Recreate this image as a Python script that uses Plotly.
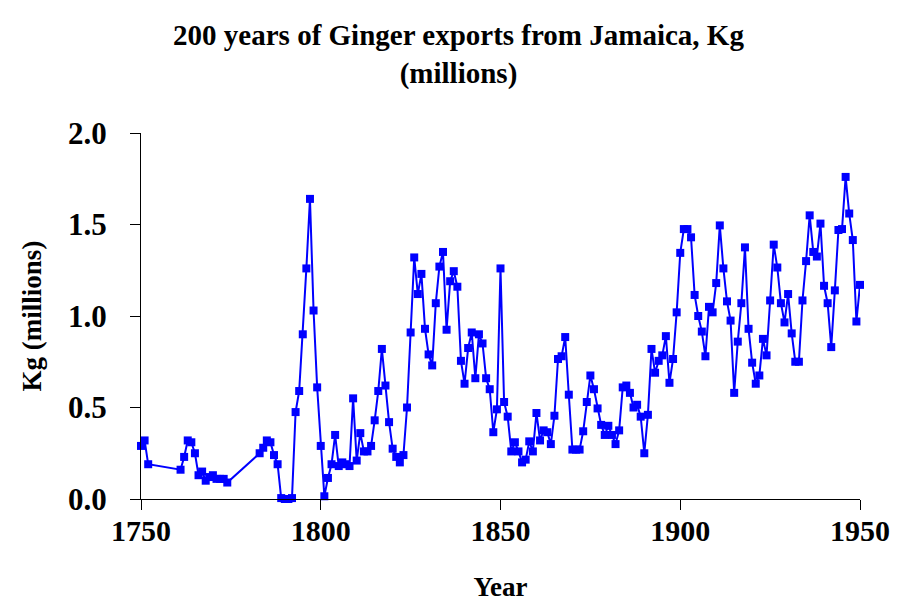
import plotly.graph_objects as go

# Ginger exports from Jamaica (millions of Kg)
years = [1750, 1751, 1752, 1761, 1762, 1763, 1764, 1765, 1766, 1767, 1768, 1769,
         1770, 1771, 1772, 1773, 1774,
         1783, 1784, 1785, 1786, 1787, 1788, 1789, 1790, 1791, 1792, 1793, 1794,
         1795, 1796, 1797, 1798, 1799, 1800, 1801, 1802, 1803, 1804, 1805, 1806,
         1807, 1808, 1809, 1810, 1811, 1812, 1813, 1814, 1815, 1816, 1817, 1818,
         1819, 1820, 1821, 1822, 1823, 1824, 1825, 1826, 1827, 1828, 1829, 1830,
         1831, 1832, 1833, 1834, 1835, 1836, 1837, 1838, 1839, 1840, 1841, 1842,
         1843, 1844, 1845, 1846, 1847, 1848, 1849, 1850, 1851, 1852, 1853, 1854,
         1855, 1856, 1857, 1858, 1859, 1860, 1861, 1862, 1863, 1864, 1865, 1866,
         1867, 1868, 1869, 1870, 1871, 1872, 1873, 1874, 1875, 1876, 1877, 1878,
         1879, 1880, 1881, 1882, 1883, 1884, 1885, 1886, 1887, 1888, 1889, 1890,
         1891, 1892, 1893, 1894, 1895, 1896, 1897, 1898, 1899, 1900, 1901, 1902,
         1903, 1904, 1905, 1906, 1907, 1908, 1909, 1910, 1911, 1912, 1913, 1914,
         1915, 1916, 1917, 1918, 1919, 1920, 1921, 1922, 1923, 1924, 1925, 1926,
         1927, 1928, 1929, 1930, 1931, 1932, 1933, 1934, 1935, 1936, 1937, 1938,
         1939, 1940, 1941, 1942, 1943, 1944, 1945, 1946, 1947, 1948, 1949, 1950]

exports = [0.29, 0.32, 0.19, 0.16, 0.23, 0.32, 0.31, 0.25, 0.13, 0.15, 0.10, 0.12,
           0.13, 0.11, 0.11, 0.11, 0.09,
           0.25, 0.28, 0.32, 0.31, 0.24, 0.19, 0.005, 0.0, 0.0, 0.005, 0.475, 0.59,
           0.90, 1.26, 1.64, 1.03, 0.61, 0.29, 0.015, 0.115, 0.19, 0.35, 0.18, 0.20,
           0.19, 0.18, 0.55, 0.21, 0.36, 0.26, 0.26, 0.29, 0.43, 0.59, 0.82, 0.62,
           0.42, 0.275, 0.23, 0.20, 0.24, 0.50, 0.91, 1.32, 1.12, 1.23, 0.93, 0.79,
           0.73, 1.07, 1.27, 1.35, 0.925, 1.19, 1.245, 1.16, 0.755, 0.63, 0.825, 0.91,
           0.66, 0.90, 0.85, 0.66, 0.60, 0.365, 0.49, 1.26, 0.53, 0.45, 0.26, 0.31,
           0.26, 0.20, 0.215, 0.315, 0.26, 0.47, 0.32, 0.375, 0.365, 0.30, 0.455, 0.765,
           0.78, 0.885, 0.57, 0.27, 0.27, 0.27, 0.37, 0.53, 0.675, 0.60, 0.495, 0.405,
           0.35, 0.40, 0.35, 0.30, 0.375, 0.61, 0.62, 0.58, 0.50, 0.515, 0.45, 0.25,
           0.46, 0.82, 0.69, 0.755, 0.785, 0.89, 0.635, 0.765, 1.02, 1.345, 1.475, 1.475,
           1.43, 1.115, 1.00, 0.915, 0.78, 1.05, 1.02, 1.18, 1.495, 1.26, 1.08, 0.975,
           0.58, 0.86, 1.07, 1.375, 0.93, 0.745, 0.63, 0.675, 0.875, 0.785, 1.085, 1.39,
           1.265, 1.07, 0.965, 1.12, 0.905, 0.75, 0.75, 1.085, 1.30, 1.55, 1.35, 1.325,
           1.505, 1.165, 1.07, 0.83, 1.14, 1.47, 1.475, 1.76, 1.56, 1.415, 0.97, 1.17]

serif = "Liberation Serif"

fig = go.Figure(go.Scatter(
    x=years,
    y=exports,
    mode="lines+markers",
    line=dict(color="#0000FF", width=2),
    marker=dict(symbol="square", size=8, color="#0000FF"),
    cliponaxis=False,
))

fig.update_layout(
    width=901, height=614,
    margin=dict(l=133, r=49, t=125, b=123),
    paper_bgcolor="white",
    plot_bgcolor="white",
    showlegend=False,
    font=dict(family=serif, color="black"),
    title=dict(
        text="200 years of Ginger exports from Jamaica, Kg<br>(millions)",
        x=0.5, xanchor="center", yref="container", y=0.94, yanchor="top",
        font=dict(family=serif, size=29, color="black", weight="bold"),
    ),
    xaxis=dict(
        range=[1750, 1950], tickvals=[1750, 1800, 1850, 1900, 1950],
        showgrid=False, zeroline=False,
        showline=True, linecolor="black", linewidth=1,
        ticks="outside", ticklen=10, tickwidth=1, tickcolor="black",
        tickfont=dict(family=serif, size=30, color="black", weight="bold"),
        ticklabelstandoff=-5,
        title=dict(text="Year", font=dict(family=serif, size=27, weight="bold"), standoff=31),
    ),
    yaxis=dict(
        range=[0, 2], tickvals=[0, 0.5, 1, 1.5, 2], tickformat=".1f",
        showgrid=False, zeroline=False,
        showline=True, linecolor="black", linewidth=1,
        ticks="outside", ticklen=10, tickwidth=1, tickcolor="black",
        tickfont=dict(family=serif, size=31, color="black", weight="bold"),
        ticklabelstandoff=17,
        title=dict(text="Kg (millions)", font=dict(family=serif, size=27, weight="bold"), standoff=18),
    ),
)

fig.write_html("out.html")
